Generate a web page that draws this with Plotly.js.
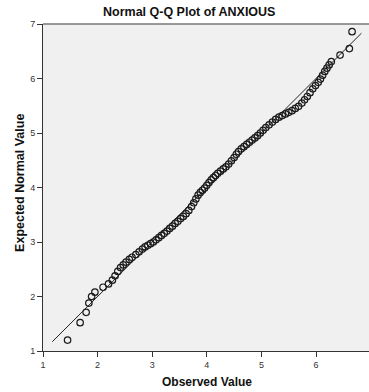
<!DOCTYPE html>
<html>
<head>
<meta charset="utf-8">
<script src="https://cdn.plot.ly/plotly-3.0.1.min.js"></script>
<style>html,body{margin:0;padding:0;background:#fff;}#chart{width:369px;height:392px;}</style>
</head>
<body>
<div id="chart"></div>
<script>
var observed = [1.45,1.68,1.79,1.84,1.89,1.95,2.10,2.20,2.27,2.32,2.37,2.42,2.47,2.52,2.58,2.63,2.70,2.76,2.82,2.87,2.92,2.97,3.02,3.07,3.12,3.17,3.22,3.27,3.32,3.37,3.42,3.47,3.52,3.57,3.62,3.67,3.72,3.76,3.80,3.84,3.88,3.92,3.96,4.00,4.04,4.08,4.12,4.16,4.20,4.25,4.30,4.35,4.40,4.45,4.50,4.54,4.58,4.63,4.68,4.73,4.78,4.83,4.88,4.93,4.98,5.03,5.08,5.14,5.20,5.26,5.32,5.38,5.44,5.50,5.56,5.62,5.68,5.74,5.79,5.84,5.89,5.94,5.99,6.04,6.08,6.12,6.16,6.20,6.24,6.28,6.44,6.61,6.66];
var expected = [1.20,1.52,1.71,1.88,2.00,2.08,2.17,2.23,2.30,2.38,2.46,2.53,2.58,2.63,2.68,2.72,2.77,2.82,2.87,2.91,2.94,2.97,3.00,3.04,3.08,3.12,3.16,3.20,3.25,3.29,3.34,3.38,3.43,3.47,3.52,3.58,3.65,3.72,3.79,3.86,3.91,3.95,3.99,4.04,4.09,4.14,4.18,4.22,4.26,4.30,4.34,4.38,4.43,4.49,4.55,4.61,4.66,4.71,4.75,4.79,4.83,4.87,4.91,4.95,5.00,5.05,5.10,5.15,5.20,5.25,5.29,5.32,5.35,5.38,5.41,5.45,5.49,5.55,5.61,5.67,5.74,5.81,5.87,5.93,5.99,6.06,6.13,6.19,6.25,6.31,6.43,6.55,6.86];
// Reference line (y = x)
var lineX = [1.17, 6.83];
var lineY = [1.17, 6.83];
var xTicks = [1,2,3,4,5,6,7];
var yTicks = [1,2,3,4,5,6,7];

var font = 'Liberation Sans, Arial, sans-serif';
var traces = [
  {x: lineX, y: lineY, mode: 'lines', type: 'scatter', line: {color: '#222', width: 1}, hoverinfo: 'skip'},
  {x: observed, y: expected, mode: 'markers', type: 'scatter',
   marker: {symbol: 'circle-open', size: 6.5, color: '#1a1a1a', line: {width: 1.2, color: '#1a1a1a'}}}
];
var layout = {
  width: 369, height: 392,
  margin: {l: 43, r: 0, t: 24, b: 41, pad: 0},
  paper_bgcolor: '#ffffff', plot_bgcolor: '#f0f0f0',
  showlegend: false,
  xaxis: {range: [1, 6.97], tickvals: xTicks, ticktext: xTicks.map(String), showgrid: false, zeroline: false,
    showline: true, linecolor: '#333', linewidth: 1, ticks: 'outside', ticklen: 5, tickcolor: '#333',
    tickfont: {family: font, size: 9, color: '#333'}},
  yaxis: {range: [1, 7], tickvals: yTicks, ticktext: yTicks.map(String), showgrid: false, zeroline: false,
    showline: true, linecolor: '#333', linewidth: 1, ticks: 'outside', ticklen: 5, tickcolor: '#333',
    tickfont: {family: font, size: 9, color: '#333'}},
  shapes: [{type: 'line', xref: 'paper', yref: 'paper', x0: 0, x1: 1, y0: 1, y1: 1, line: {color: '#777', width: 1.5}}],
  annotations: [
    {text: 'Normal Q-Q Plot of ANXIOUS', xref: 'paper', yref: 'paper', x: 0.449, y: 1.037, xanchor: 'center', yanchor: 'middle', showarrow: false,
     font: {family: font, size: 12.5, color: '#111', weight: 'bold'}},
    {text: 'Observed Value', xref: 'paper', yref: 'paper', x: 0.503, y: -0.094, xanchor: 'center', yanchor: 'middle', showarrow: false,
     font: {family: font, size: 12, color: '#111', weight: 'bold'}},
    {text: 'Expected Normal Value', xref: 'paper', yref: 'paper', x: -0.0706, y: 0.514, xanchor: 'center', yanchor: 'middle', textangle: -90, showarrow: false,
     font: {family: font, size: 12.5, color: '#111', weight: 'bold'}}
  ]
};
Plotly.newPlot('chart', traces, layout, {displayModeBar: false, staticPlot: true});
</script>
</body>
</html>
